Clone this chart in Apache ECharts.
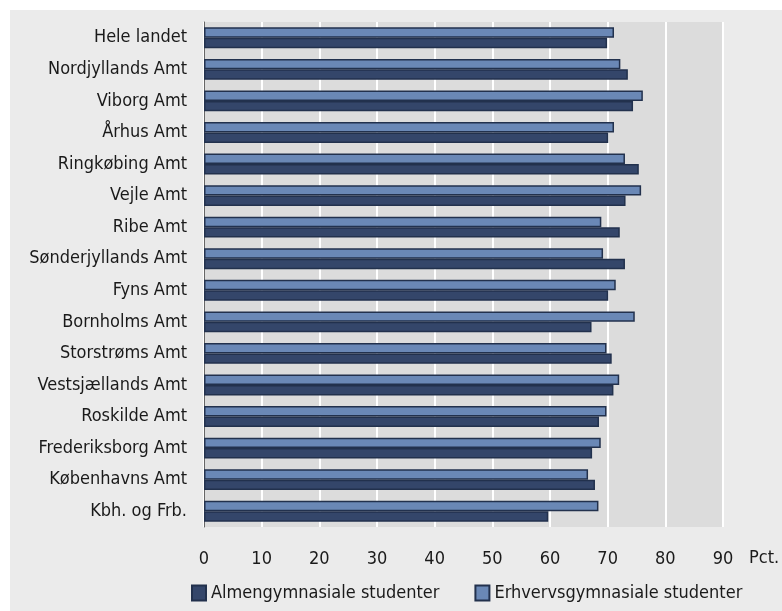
<!DOCTYPE html>
<html>
<head>
<meta charset="utf-8">
<script src="https://cdn.jsdelivr.net/npm/echarts@6/dist/echarts.min.js"></script>
<style>
  html, body { margin: 0; padding: 0; background: #fff; }
  #main { position: absolute; left: 10px; top: 10px; width: 772px; height: 601px; }
</style>
</head>
<body>
<div id="main"></div>
<script>
const regions = [
  'Hele landet', 'Nordjyllands Amt', 'Viborg Amt', 'Århus Amt', 'Ringkøbing Amt',
  'Vejle Amt', 'Ribe Amt', 'Sønderjyllands Amt', 'Fyns Amt', 'Bornholms Amt',
  'Storstrøms Amt', 'Vestsjællands Amt', 'Roskilde Amt', 'Frederiksborg Amt',
  'Københavns Amt', 'Kbh. og Frb.'
];
// Almengymnasiale studenter (dark bars)
const almen = [69.9, 73.5, 74.4, 70.1, 75.4, 73.1, 72.1, 73.0, 70.1, 67.2, 70.7, 71.0, 68.5, 67.3, 67.8, 59.7];
// Erhvervsgymnasiale studenter (light bars)
const erhverv = [71.1, 72.2, 76.1, 71.1, 73.0, 75.8, 68.9, 69.2, 71.4, 74.7, 69.8, 72.0, 69.8, 68.8, 66.6, 68.4];
const xTicks = [0, 10, 20, 30, 40, 50, 60, 70, 80, 90];

const font = '"DejaVu Sans Condensed", "DejaVu Sans", sans-serif';
const txt = '#1a1a1a';
const chart = echarts.init(document.getElementById('main'));

chart.setOption({
  backgroundColor: '#ebebeb',
  textStyle: { fontFamily: font },
  grid: {
    left: 194, right: 59, top: 12, bottom: 84,
    show: true, backgroundColor: '#dcdcdc', borderWidth: 0
  },
  legend: {
    left: 176, top: 569,
    icon: 'rect',
    itemWidth: 14, itemHeight: 15, itemGap: 35,
    textStyle: { fontFamily: font, fontSize: 18, color: txt },
    data: ['Almengymnasiale studenter', 'Erhvervsgymnasiale studenter']
  },
  graphic: [{
    type: 'text',
    left: 739, top: 539,
    style: { text: 'Pct.', fill: txt, font: '18px ' + font }
  }],
  xAxis: {
    type: 'value',
    min: xTicks[0], max: xTicks[xTicks.length - 1], interval: 10,
    axisLine: { show: false },
    axisTick: { show: false },
    axisLabel: { margin: 23, fontSize: 18, color: txt },
    splitLine: { lineStyle: { color: '#ffffff', width: 2 } }
  },
  yAxis: {
    type: 'category',
    inverse: true,
    data: regions,
    axisLine: { lineStyle: { color: '#666', width: 1 } },
    axisTick: { show: false },
    axisLabel: { margin: 17, fontSize: 18, color: txt }
  },
  series: [
    {
      name: 'Erhvervsgymnasiale studenter',
      type: 'bar',
      data: erhverv,
      barGap: '0%',
      barCategoryGap: '34%',
      itemStyle: { color: '#6a88b6', borderColor: '#22314d', borderWidth: 1.5 }
    },
    {
      name: 'Almengymnasiale studenter',
      type: 'bar',
      data: almen,
      barGap: '0%',
      barCategoryGap: '34%',
      itemStyle: { color: '#34466a', borderColor: '#22314d', borderWidth: 1.5 }
    }
  ]
});
</script>
</body>
</html>
